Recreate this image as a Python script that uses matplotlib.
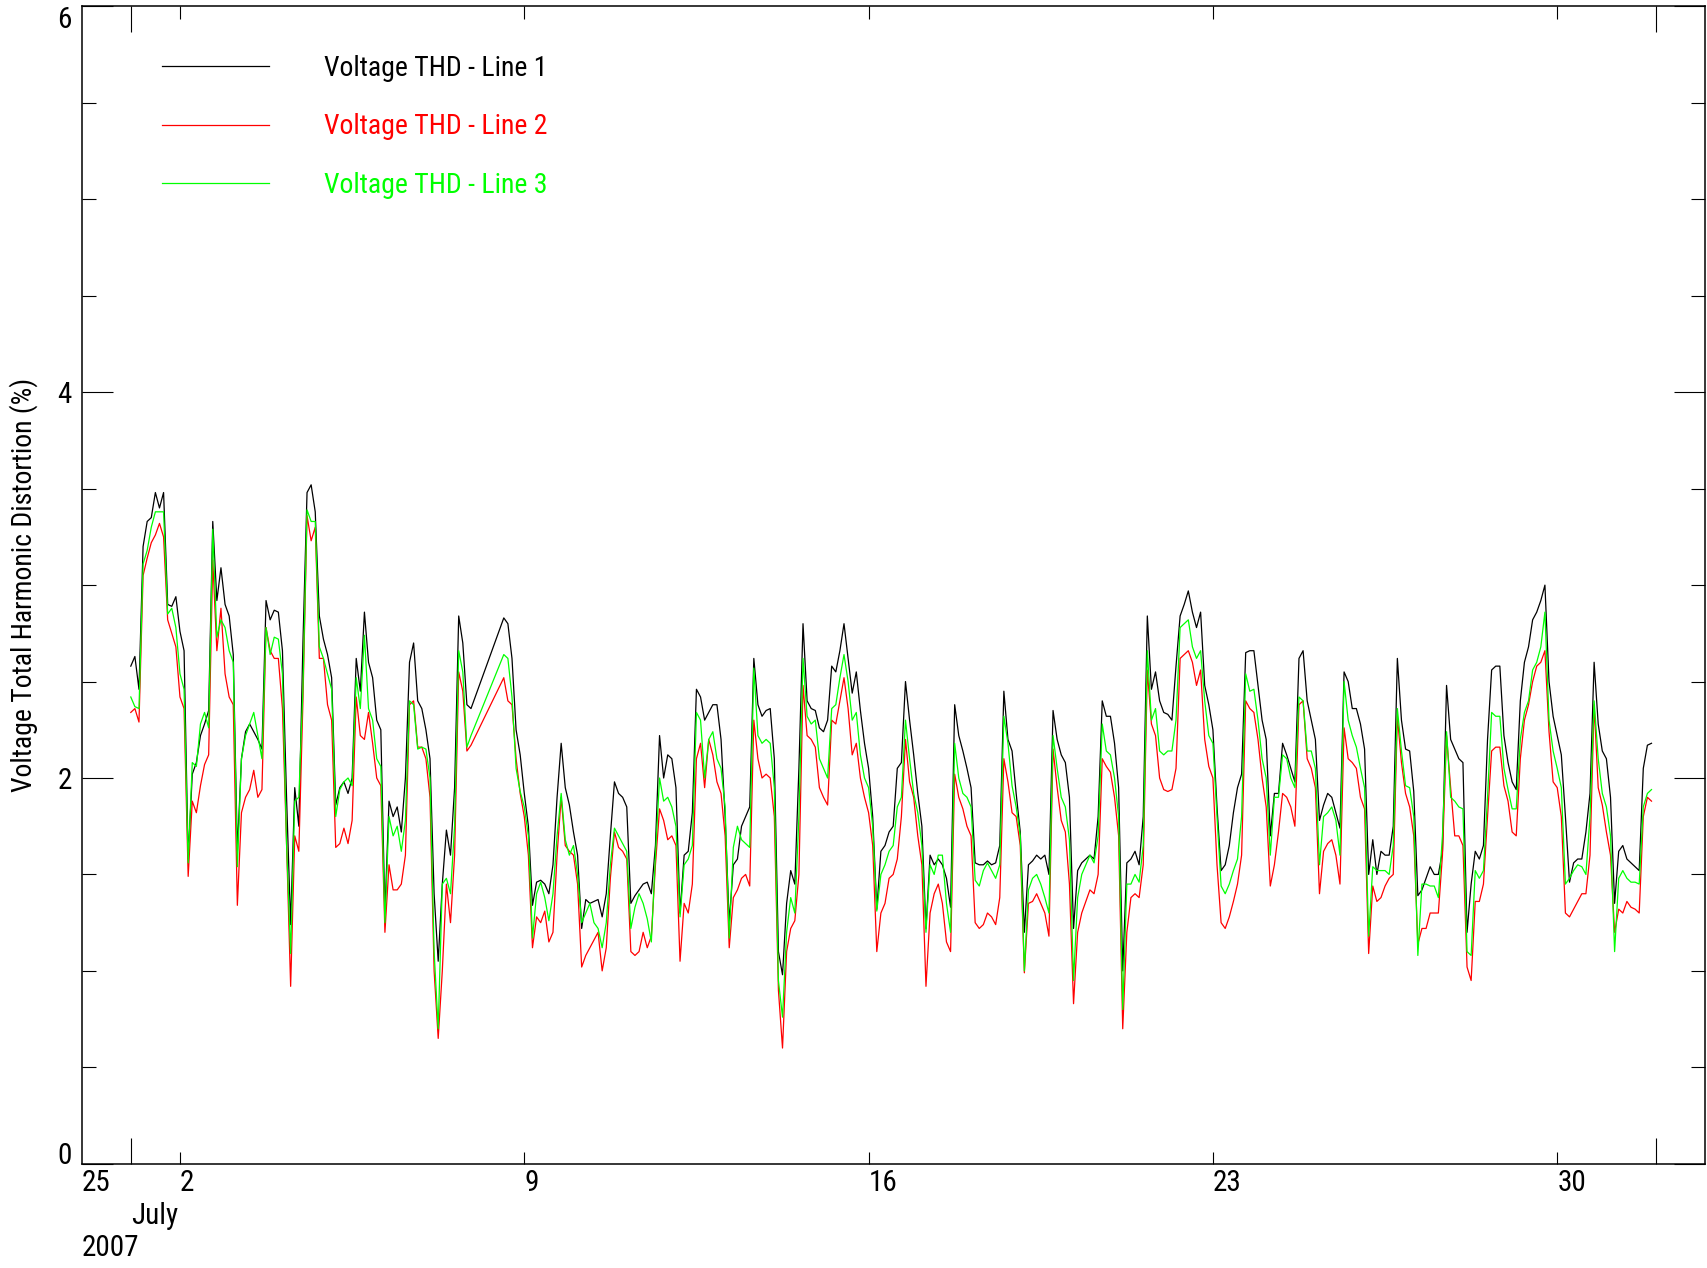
import numpy as np
import pandas as pd
import matplotlib
matplotlib.use('Agg')
import matplotlib.pyplot as plt
import matplotlib.dates as mdates
import matplotlib.transforms as mtransforms
from matplotlib.ticker import MultipleLocator, NullFormatter

plt.rcParams['font.family'] = ['Liberation Sans Narrow', 'Roboto Condensed', 'DejaVu Sans']
plt.rcParams['font.stretch'] = 'condensed'

# 2-hourly readings (00h, 02h, ... 22h), one row per day, 1-31 July 2007
# 8 July: no data before 14h (recorder gap)
line1 = [
    2.58, 2.63, 2.46, 3.20, 3.33, 3.35, 3.48, 3.40, 3.48, 2.90, 2.89, 2.94,  # 1
    2.76, 2.66, 1.58, 2.02, 2.08, 2.22, 2.28, 2.35, 3.33, 2.92, 3.09, 2.90,  # 2
    2.84, 2.64, 1.62, 2.10, 2.24, 2.28, 2.24, 2.20, 2.15, 2.92, 2.82, 2.87,  # 3
    2.86, 2.66, 1.90, 1.24, 1.95, 1.75, 2.70, 3.48, 3.52, 3.38, 2.84, 2.72,  # 4
    2.64, 2.52, 1.86, 1.95, 1.98, 1.92, 2.00, 2.62, 2.45, 2.86, 2.60, 2.52,  # 5
    2.30, 2.25, 1.30, 1.88, 1.80, 1.85, 1.72, 2.00, 2.60, 2.70, 2.40, 2.36,  # 6
    2.25, 2.10, 1.40, 1.05, 1.45, 1.73, 1.60, 1.95, 2.84, 2.70, 2.38, 2.36,  # 7
    2.83, 2.80, 2.62, 2.25, 2.12,                                            # 8
    1.92, 1.75, 1.34, 1.46, 1.47, 1.45, 1.40, 1.55, 1.90, 2.18, 1.95, 1.86,  # 9
    1.72, 1.60, 1.22, 1.37, 1.35, 1.36, 1.37, 1.28, 1.40, 1.70, 1.98, 1.92,  # 10
    1.90, 1.85, 1.35, 1.39, 1.42, 1.45, 1.46, 1.40, 1.65, 2.22, 2.00, 2.12,  # 11
    2.10, 1.95, 1.30, 1.60, 1.62, 1.82, 2.46, 2.42, 2.30, 2.34, 2.38, 2.38,  # 12
    2.20, 1.80, 1.25, 1.55, 1.58, 1.75, 1.80, 1.85, 2.62, 2.38, 2.32, 2.35,  # 13
    2.36, 2.10, 1.10, 0.98, 1.35, 1.52, 1.45, 2.05, 2.80, 2.40, 2.36, 2.35,  # 14
    2.26, 2.24, 2.30, 2.58, 2.55, 2.66, 2.80, 2.62, 2.44, 2.55, 2.35, 2.18,  # 15
    2.05, 1.80, 1.32, 1.62, 1.65, 1.72, 1.75, 2.05, 2.08, 2.50, 2.30, 2.12,  # 16
    1.92, 1.75, 1.22, 1.60, 1.55, 1.58, 1.55, 1.48, 1.33, 2.38, 2.22, 2.14,  # 17
    2.05, 1.95, 1.56, 1.55, 1.55, 1.57, 1.55, 1.56, 1.65, 2.45, 2.20, 2.14,  # 18
    1.92, 1.72, 1.20, 1.55, 1.57, 1.60, 1.58, 1.60, 1.50, 2.35, 2.20, 2.12,  # 19
    2.08, 1.90, 1.22, 1.52, 1.56, 1.58, 1.60, 1.58, 1.80, 2.40, 2.32, 2.32,  # 20
    2.18, 1.95, 1.00, 1.56, 1.58, 1.62, 1.55, 1.80, 2.84, 2.46, 2.55, 2.40,  # 21
    2.34, 2.33, 2.30, 2.58, 2.84, 2.90, 2.97, 2.86, 2.78, 2.86, 2.48, 2.38,  # 22
    2.25, 1.85, 1.52, 1.55, 1.65, 1.82, 1.95, 2.02, 2.65, 2.66, 2.66, 2.48,  # 23
    2.30, 2.20, 1.70, 1.92, 1.92, 2.18, 2.12, 2.05, 1.98, 2.62, 2.66, 2.40,  # 24
    2.30, 2.20, 1.78, 1.86, 1.92, 1.90, 1.82, 1.74, 2.55, 2.50, 2.36, 2.36,  # 25
    2.28, 2.15, 1.50, 1.68, 1.50, 1.62, 1.60, 1.60, 1.75, 2.62, 2.30, 2.15,  # 26
    2.14, 1.93, 1.39, 1.42, 1.48, 1.54, 1.50, 1.50, 1.62, 2.48, 2.20, 2.15,  # 27
    2.10, 2.08, 1.20, 1.45, 1.62, 1.58, 1.65, 2.20, 2.56, 2.58, 2.58, 2.22,  # 28
    2.08, 1.98, 1.94, 2.40, 2.60, 2.68, 2.82, 2.86, 2.92, 3.00, 2.50, 2.32,  # 29
    2.22, 2.12, 1.80, 1.46, 1.56, 1.58, 1.58, 1.72, 1.92, 2.60, 2.28, 2.14,  # 30
    2.10, 1.90, 1.35, 1.62, 1.65, 1.58, 1.56, 1.54, 1.52, 2.05, 2.17, 2.18,  # 31
]

line2 = [
    2.34, 2.36, 2.29, 3.05, 3.14, 3.22, 3.26, 3.32, 3.25, 2.82, 2.75, 2.68,  # 1
    2.42, 2.36, 1.49, 1.88, 1.82, 1.96, 2.07, 2.12, 3.13, 2.66, 2.88, 2.54,  # 2
    2.42, 2.38, 1.34, 1.82, 1.90, 1.94, 2.04, 1.90, 1.94, 2.78, 2.66, 2.62,  # 3
    2.62, 2.36, 1.66, 0.92, 1.70, 1.62, 2.40, 3.36, 3.23, 3.30, 2.62, 2.62,  # 4
    2.38, 2.30, 1.64, 1.66, 1.74, 1.66, 1.78, 2.42, 2.22, 2.20, 2.34, 2.18,  # 5
    2.00, 1.96, 1.20, 1.55, 1.42, 1.42, 1.45, 1.60, 2.38, 2.40, 2.16, 2.16,  # 6
    2.10, 1.90, 1.00, 0.65, 1.00, 1.45, 1.25, 1.60, 2.55, 2.45, 2.14, 2.17,  # 7
    2.52, 2.40, 2.38, 2.10, 1.92,                                            # 8
    1.80, 1.60, 1.12, 1.28, 1.25, 1.31, 1.15, 1.20, 1.60, 1.90, 1.65, 1.62,  # 9
    1.60, 1.45, 1.02, 1.08, 1.12, 1.16, 1.20, 1.00, 1.12, 1.48, 1.72, 1.64,  # 10
    1.62, 1.58, 1.10, 1.08, 1.10, 1.20, 1.12, 1.18, 1.55, 1.84, 1.78, 1.68,  # 11
    1.70, 1.65, 1.05, 1.35, 1.30, 1.45, 2.10, 2.18, 1.95, 2.20, 2.12, 1.98,  # 12
    1.92, 1.70, 1.12, 1.38, 1.42, 1.48, 1.50, 1.44, 2.30, 2.10, 2.00, 2.02,  # 13
    2.00, 1.80, 0.90, 0.60, 1.10, 1.22, 1.26, 1.50, 2.48, 2.22, 2.20, 2.16,  # 14
    1.95, 1.90, 1.86, 2.30, 2.28, 2.40, 2.52, 2.36, 2.12, 2.18, 2.00, 1.90,  # 15
    1.82, 1.65, 1.10, 1.30, 1.35, 1.48, 1.50, 1.58, 1.80, 2.20, 1.98, 1.90,  # 16
    1.70, 1.55, 0.92, 1.30, 1.40, 1.45, 1.35, 1.15, 1.10, 2.02, 1.90, 1.84,  # 17
    1.75, 1.70, 1.25, 1.22, 1.24, 1.30, 1.28, 1.24, 1.38, 2.10, 1.98, 1.82,  # 18
    1.80, 1.65, 0.99, 1.35, 1.36, 1.40, 1.35, 1.30, 1.18, 2.15, 1.95, 1.78,  # 19
    1.72, 1.45, 0.83, 1.20, 1.30, 1.36, 1.42, 1.40, 1.50, 2.10, 2.06, 2.03,  # 20
    1.90, 1.70, 0.70, 1.20, 1.38, 1.40, 1.38, 1.55, 2.56, 2.28, 2.22, 2.00,  # 21
    1.94, 1.93, 1.94, 2.05, 2.62, 2.64, 2.66, 2.60, 2.48, 2.56, 2.20, 2.06,  # 22
    2.00, 1.55, 1.25, 1.22, 1.28, 1.36, 1.45, 1.60, 2.40, 2.36, 2.34, 2.20,  # 23
    2.00, 1.85, 1.44, 1.55, 1.72, 1.92, 1.90, 1.85, 1.75, 2.38, 2.40, 2.10,  # 24
    2.05, 1.95, 1.40, 1.62, 1.66, 1.68, 1.60, 1.45, 2.26, 2.10, 2.08, 2.05,  # 25
    1.90, 1.84, 1.09, 1.44, 1.36, 1.38, 1.44, 1.48, 1.50, 2.32, 2.08, 1.92,  # 26
    1.85, 1.70, 1.14, 1.22, 1.22, 1.30, 1.30, 1.30, 1.60, 2.22, 1.95, 1.70,  # 27
    1.70, 1.65, 1.02, 0.95, 1.36, 1.36, 1.45, 1.80, 2.14, 2.16, 2.16, 1.96,  # 28
    1.88, 1.72, 1.70, 2.10, 2.30, 2.38, 2.50, 2.58, 2.60, 2.66, 2.24, 1.98,  # 29
    1.95, 1.80, 1.30, 1.28, 1.32, 1.36, 1.40, 1.40, 1.60, 2.38, 1.95, 1.86,  # 30
    1.72, 1.60, 1.20, 1.32, 1.30, 1.36, 1.33, 1.32, 1.30, 1.80, 1.90, 1.88,  # 31
]

line3 = [
    2.42, 2.37, 2.36, 3.11, 3.18, 3.30, 3.38, 3.38, 3.38, 2.85, 2.88, 2.78,  # 1
    2.54, 2.46, 1.56, 2.08, 2.06, 2.28, 2.34, 2.26, 3.29, 2.73, 2.82, 2.78,  # 2
    2.66, 2.60, 1.54, 2.10, 2.22, 2.28, 2.34, 2.22, 2.10, 2.78, 2.64, 2.73,  # 3
    2.72, 2.54, 1.66, 1.09, 1.88, 1.90, 2.46, 3.39, 3.33, 3.33, 2.68, 2.62,  # 4
    2.54, 2.46, 1.80, 1.94, 1.98, 2.00, 1.96, 2.52, 2.36, 2.74, 2.36, 2.30,  # 5
    2.10, 2.06, 1.25, 1.80, 1.70, 1.75, 1.62, 1.78, 2.40, 2.38, 2.15, 2.16,  # 6
    2.15, 2.00, 1.10, 0.70, 1.45, 1.48, 1.40, 1.75, 2.66, 2.55, 2.16, 2.22,  # 7
    2.64, 2.62, 2.42, 2.05, 1.93,                                            # 8
    1.85, 1.70, 1.17, 1.40, 1.46, 1.38, 1.26, 1.40, 1.70, 1.92, 1.68, 1.60,  # 9
    1.65, 1.50, 1.25, 1.30, 1.35, 1.25, 1.22, 1.12, 1.25, 1.55, 1.74, 1.70,  # 10
    1.66, 1.62, 1.22, 1.33, 1.40, 1.35, 1.27, 1.15, 1.60, 2.00, 1.88, 1.90,  # 11
    1.85, 1.75, 1.28, 1.55, 1.58, 1.65, 2.34, 2.30, 2.00, 2.20, 2.24, 2.10,  # 12
    2.05, 1.85, 1.17, 1.64, 1.75, 1.68, 1.66, 1.64, 2.57, 2.22, 2.18, 2.20,  # 13
    2.18, 1.95, 0.95, 0.76, 1.20, 1.38, 1.30, 1.80, 2.62, 2.32, 2.28, 2.30,  # 14
    2.10, 2.05, 2.00, 2.36, 2.38, 2.52, 2.64, 2.50, 2.30, 2.34, 2.12, 2.00,  # 15
    1.95, 1.75, 1.31, 1.50, 1.55, 1.62, 1.65, 1.85, 1.90, 2.30, 2.10, 1.92,  # 16
    1.82, 1.65, 1.20, 1.55, 1.50, 1.60, 1.60, 1.35, 1.20, 2.18, 2.00, 1.92,  # 17
    1.90, 1.85, 1.47, 1.44, 1.52, 1.56, 1.52, 1.48, 1.55, 2.32, 2.18, 1.96,  # 18
    1.85, 1.70, 1.00, 1.42, 1.48, 1.50, 1.45, 1.38, 1.30, 2.22, 2.05, 1.90,  # 19
    1.85, 1.68, 0.95, 1.38, 1.50, 1.55, 1.60, 1.56, 1.70, 2.28, 2.14, 2.12,  # 20
    2.00, 1.80, 0.80, 1.45, 1.45, 1.50, 1.46, 1.65, 2.66, 2.30, 2.36, 2.14,  # 21
    2.12, 2.14, 2.14, 2.30, 2.78, 2.80, 2.82, 2.68, 2.62, 2.66, 2.40, 2.22,  # 22
    2.18, 1.80, 1.44, 1.40, 1.45, 1.52, 1.58, 1.80, 2.54, 2.45, 2.46, 2.30,  # 23
    2.10, 2.00, 1.60, 1.90, 1.90, 2.12, 2.10, 2.00, 1.95, 2.42, 2.40, 2.14,  # 24
    2.14, 2.05, 1.55, 1.80, 1.82, 1.85, 1.78, 1.60, 2.50, 2.30, 2.22, 2.16,  # 25
    2.05, 1.95, 1.18, 1.54, 1.52, 1.52, 1.52, 1.50, 1.65, 2.36, 2.14, 1.96,  # 26
    1.95, 1.80, 1.08, 1.45, 1.45, 1.44, 1.44, 1.38, 1.70, 2.24, 1.90, 1.88,  # 27
    1.85, 1.84, 1.10, 1.08, 1.52, 1.48, 1.52, 1.90, 2.34, 2.32, 2.32, 2.05,  # 28
    1.94, 1.84, 1.84, 2.20, 2.34, 2.40, 2.56, 2.60, 2.68, 2.86, 2.30, 2.14,  # 29
    2.05, 1.95, 1.45, 1.48, 1.52, 1.55, 1.54, 1.50, 1.80, 2.40, 2.10, 1.92,  # 30
    1.85, 1.70, 1.10, 1.48, 1.52, 1.48, 1.46, 1.46, 1.45, 1.85, 1.92, 1.94,  # 31
]

labels = ['Voltage THD - Line 1', 'Voltage THD - Line 2', 'Voltage THD - Line 3']
colors = ['black', '#ff0000', '#00ff00']

# time stamps: every 2 h through July, minus the missing block on 8 July
t_all = pd.date_range('2007-07-01 00:00', '2007-07-31 22:00', freq='2h')
missing = (t_all >= '2007-07-08 00:00') & (t_all <= '2007-07-08 12:00')
t = t_all[~missing]

fs = 21      # tick labels
fs_txt = 20  # legend, axis title
fig = plt.figure(figsize=(17.07, 12.68), dpi=100)
ax = fig.add_axes([0.0478, 0.0822, 0.9509, 0.9127])

for vals, lab, c in zip([line1, line2, line3], labels, colors):
    ax.plot(t, vals, color=c, lw=0.9, label=lab)

x0 = pd.Timestamp('2007-06-30')
ax.set_xlim(x0, pd.Timestamp('2007-08-02'))
ax.set_ylim(0, 6)

# x: month boundaries long, Mondays short + labelled
mondays = pd.date_range('2007-07-02', '2007-07-30', freq='7D')
ax.xaxis.set_major_locator(mdates.MonthLocator())
ax.xaxis.set_major_formatter(NullFormatter())
ax.set_xticks(mondays, [str(d.day) for d in mondays], minor=True)
for lbl in ax.get_xticklabels(minor=True):
    lbl.set_ha('left')

ax.set_yticks([0, 2, 4, 6], ['0', '2', '4', '6'])
ax.yaxis.set_minor_locator(MultipleLocator(0.5))

ax.tick_params(axis='both', which='both', direction='in', top=True, right=True,
               labelsize=fs, width=0.8, color='black')
ax.tick_params(axis='x', which='major', length=19, pad=4)
ax.tick_params(axis='x', which='minor', length=9, pad=4)
ax.tick_params(axis='y', which='major', length=22, pad=7)
ax.tick_params(axis='y', which='minor', length=10, pad=7)
for sp in ax.spines.values():
    sp.set_linewidth(1.1)

# first/last y labels kept inside the frame
ylbls = ax.get_yticklabels()
ylbls[0].set_va('baseline')
ylbls[-1].set_va('top')

ax.annotate('25', xy=(x0, 0), xycoords=('data', 'axes fraction'),
            xytext=(0, -4), textcoords='offset points', ha='left', va='top', fontsize=fs)
tr = mtransforms.blended_transform_factory(ax.transData, fig.transFigure)
ax.text(pd.Timestamp('2007-07-01'), 0.041, 'July', transform=tr, ha='left', va='center', fontsize=fs)
ax.text(x0, 0.0158, '2007', transform=tr, ha='left', va='center', fontsize=fs)

fig.text(24 / 1707, 0.0822 + 0.9127 / 2, 'Voltage Total Harmonic Distortion (%)',
         rotation=90, ha='center', va='center', fontsize=fs_txt)

ax.legend(loc='upper left', bbox_to_anchor=(0.0495, 0.958), frameon=False, fontsize=fs_txt,
          handlelength=3.85, handletextpad=1.98, labelspacing=1.13, borderpad=0,
          borderaxespad=0, labelcolor='linecolor')

fig.savefig('out.png', dpi=100)
